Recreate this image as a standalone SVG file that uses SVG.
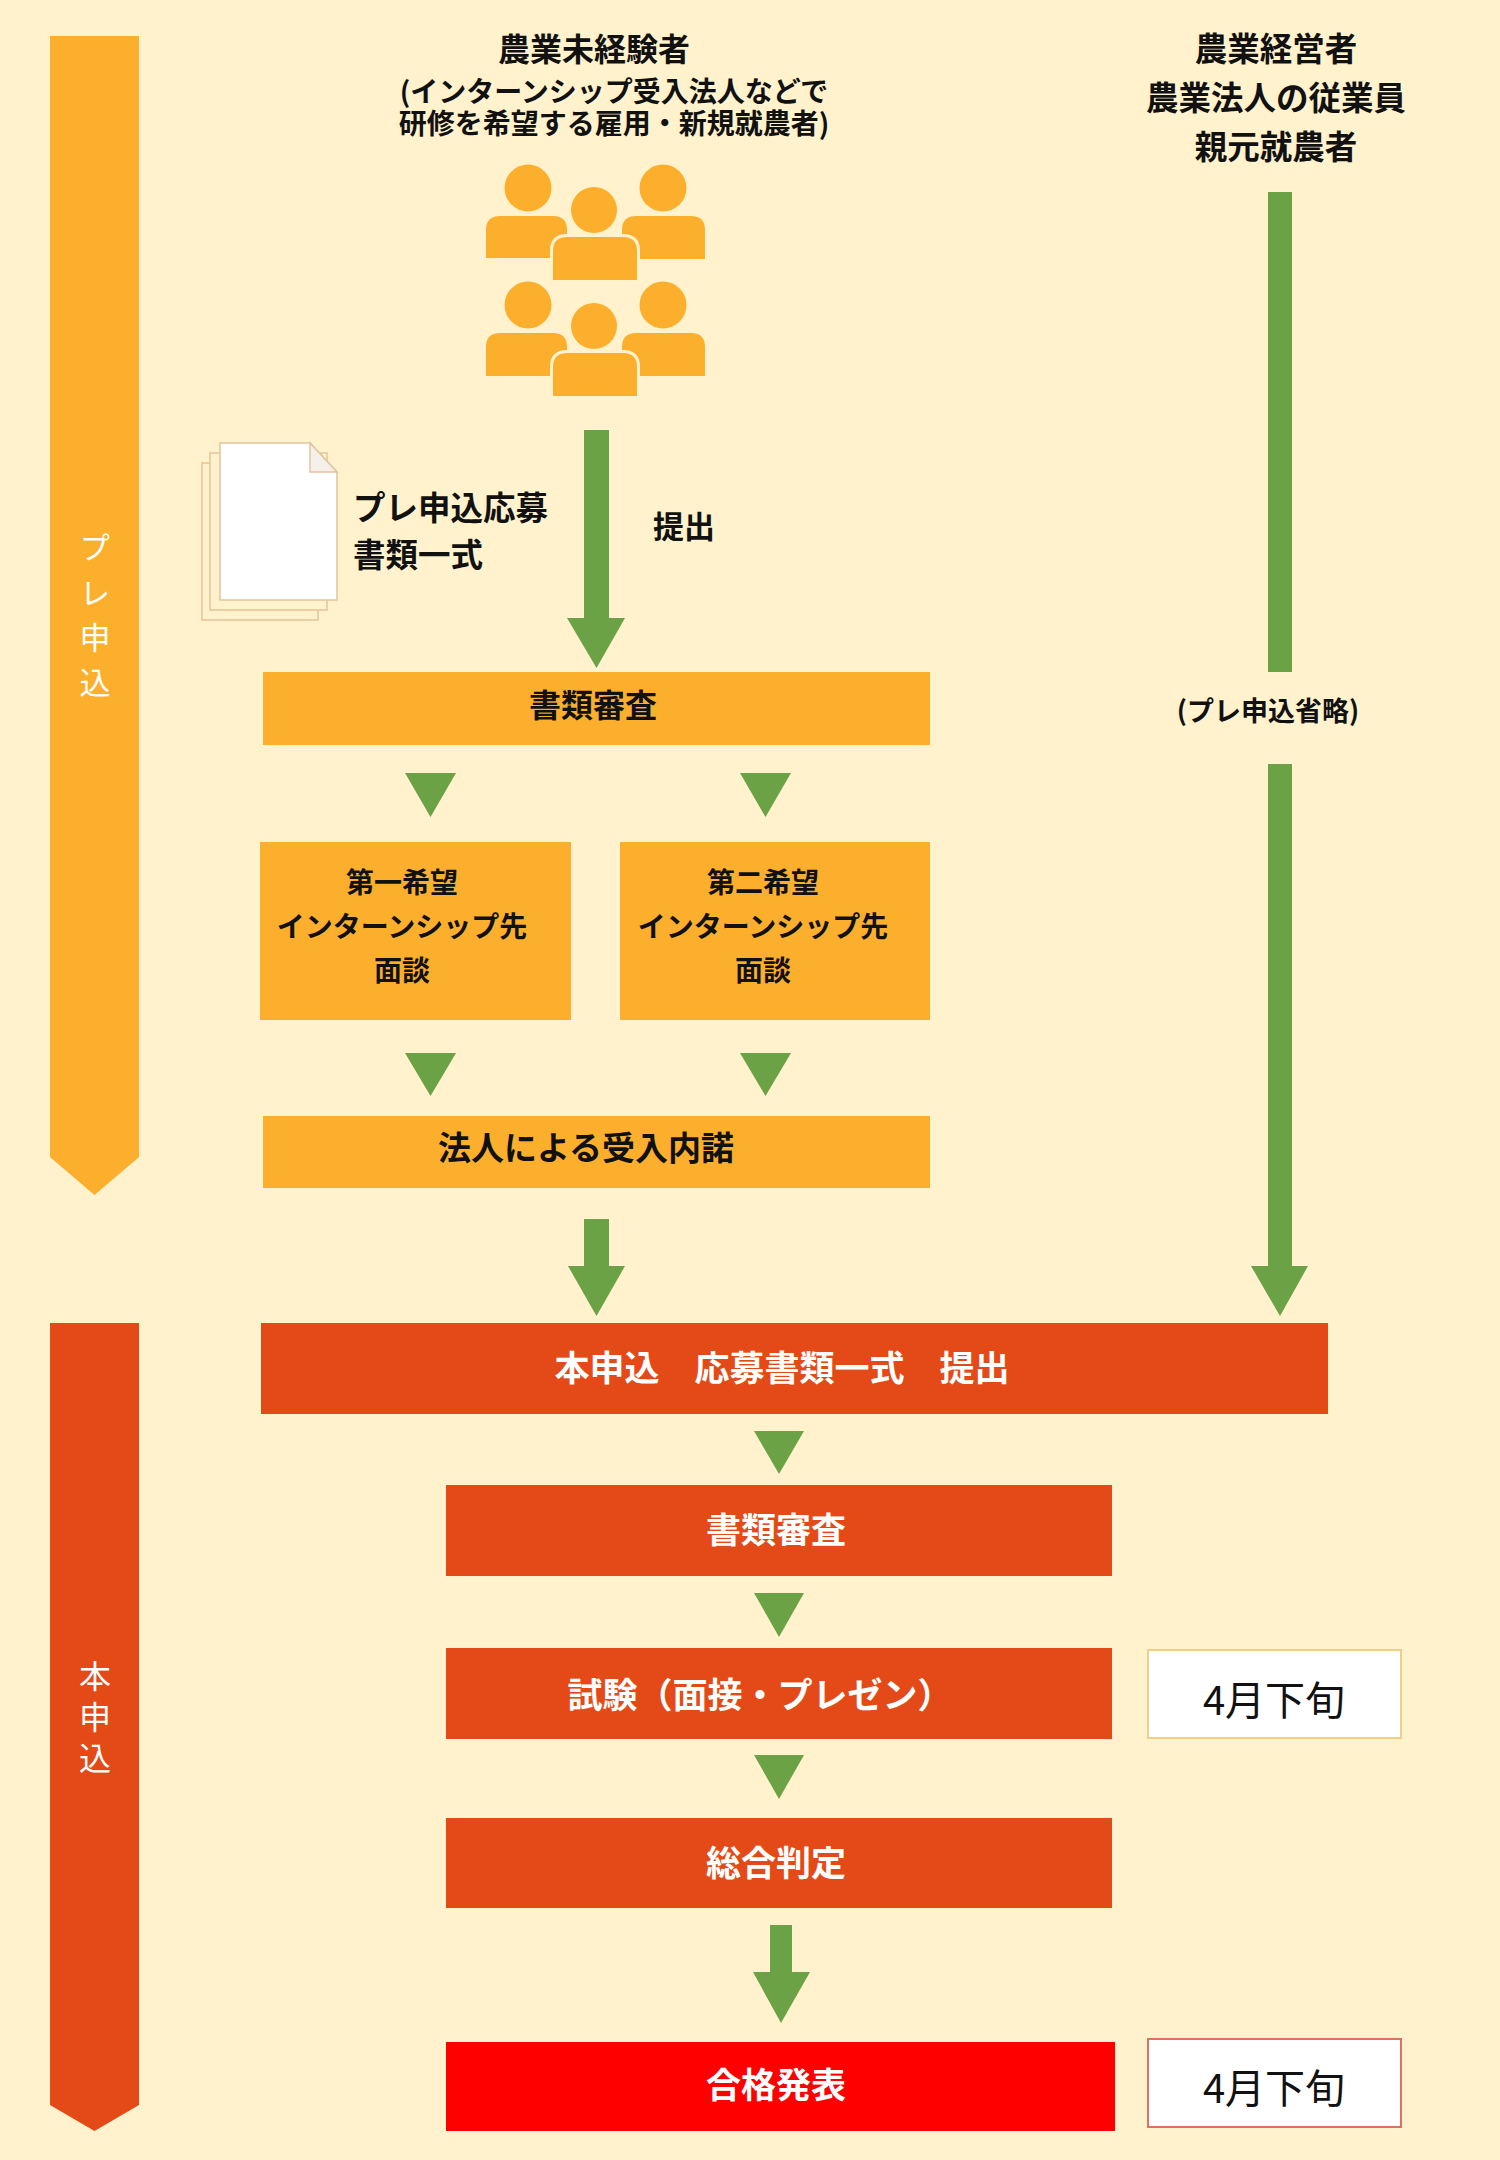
<svg xmlns="http://www.w3.org/2000/svg" width="1500" height="2160" viewBox="0 0 1500 2160">
<style>
.t{font-family:"Noto Sans CJK JP","Noto Sans CJK SC",sans-serif;font-weight:700;fill:#111;}
.w{font-family:"Noto Sans CJK JP","Noto Sans CJK SC",sans-serif;font-weight:400;fill:#fff;writing-mode:vertical-rl;}
.wb{font-family:"Noto Sans CJK JP","Noto Sans CJK SC",sans-serif;font-weight:700;fill:#fff;}
.r{font-family:"Noto Sans CJK JP","Noto Sans CJK SC",sans-serif;font-weight:400;fill:#111;}
.or{fill:#FCAF2C;}
.rd{fill:#E44A17;}
.gr{fill:#6BA245;}
.pp{fill:#FCAF2C;}
.ppc{fill:#FCAF2C;stroke:#FFF2CC;stroke-width:6;paint-order:stroke;}
.pg{stroke:#E3C39B;stroke-width:1.5;}
</style>
<rect x="0" y="0" width="1500" height="2160" fill="#FFF2CC"/>

<g id="band-pre">
<polygon class="or" points="50,36 139,36 139,1157 94.5,1195 50,1157"/>
<text class="w" font-size="31" letter-spacing="14" x="95" y="532">プレ申込</text>
</g>
<g id="band-main">
<polygon class="rd" points="50,1323 139,1323 139,2105 94.5,2131 50,2105"/>
<text class="w" font-size="32" letter-spacing="9" x="95" y="1660">本申込</text>
</g>

<g id="header-newcomer">
<text class="t" font-size="32" text-anchor="middle" x="594" y="61">農業未経験者</text>
<text class="t" font-size="28" text-anchor="middle" x="614" y="102">(インターンシップ受入法人などで</text>
<text class="t" font-size="28" text-anchor="middle" x="614" y="134">研修を希望する雇用・新規就農者)</text>
</g>
<g id="header-farmer">
<text class="t" font-size="32.5" text-anchor="middle" x="1276" y="61">農業経営者</text>
<text class="t" font-size="32.5" text-anchor="middle" x="1276" y="110">農業法人の従業員</text>
<text class="t" font-size="32.5" text-anchor="middle" x="1276" y="159">親元就農者</text>
</g>

<g id="people-icon">
<path class="pp" d="M486,258 V230 Q486,216 500,216 H553 Q567,216 567,230 V258 Z"/>
<path class="pp" d="M622,259 V230 Q622,216 636,216 H691 Q705,216 705,230 V259 Z"/>
<circle class="pp" cx="528" cy="188" r="23.5"/>
<circle class="pp" cx="663" cy="188" r="23.5"/>
<path class="ppc" d="M553,280 V251 Q553,237 567,237 H623 Q637,237 637,251 V280 Z"/>
<circle class="ppc" cx="594" cy="210" r="23"/>
<path class="pp" d="M486,376 V347 Q486,333 500,333 H553 Q567,333 567,347 V376 Z"/>
<path class="pp" d="M622,376 V347 Q622,333 636,333 H691 Q705,333 705,347 V376 Z"/>
<circle class="pp" cx="528" cy="305" r="23.5"/>
<circle class="pp" cx="663" cy="305" r="23.5"/>
<path class="ppc" d="M553,396 V367 Q553,353 567,353 H623 Q637,353 637,367 V396 Z"/>
<circle class="ppc" cx="594" cy="326" r="23"/>
</g>

<g id="documents">
<rect class="pg" x="202" y="463" width="116" height="157" fill="#FFF2CC"/>
<rect class="pg" x="210" y="453" width="117" height="157" fill="#FFF2CC"/>
<path class="pg" d="M220,443 H310 L337,472 V600 H220 Z" fill="#fff"/>
<path class="pg" d="M310,443 V472 H337 Z" fill="#F4F0EA"/>
<text class="t" font-size="32.5" x="353" y="520">プレ申込応募</text>
<text class="t" font-size="32.5" x="353" y="567">書類一式</text>
</g>
<g id="label-submit">
<text class="t" font-size="31" x="653" y="538">提出</text>
</g>

<g id="connectors">
<rect class="gr" x="584" y="430" width="25" height="190"/>
<polygon class="gr" points="567,618 625,618 596.5,668"/>
<rect class="gr" x="1268" y="192" width="24" height="480"/>
<rect class="gr" x="1268" y="764" width="24" height="504"/>
<polygon class="gr" points="1251,1266 1308,1266 1280,1316"/>
<polygon class="gr" points="405,773 456,773 430.5,817"/>
<polygon class="gr" points="740,773 791,773 765.5,817"/>
<polygon class="gr" points="405,1053 456,1053 430.5,1096"/>
<polygon class="gr" points="740,1053 791,1053 765.5,1096"/>
<rect class="gr" x="584" y="1219" width="25" height="50"/>
<polygon class="gr" points="568,1266 625,1266 596.5,1316"/>
<polygon class="gr" points="754,1431 804,1431 779,1474"/>
<polygon class="gr" points="754,1593 804,1593 779,1637"/>
<polygon class="gr" points="754,1755 804,1755 779,1799"/>
<rect class="gr" x="770" y="1925" width="22" height="50"/>
<polygon class="gr" points="753,1972 810,1972 781,2023"/>
</g>

<g id="label-skip">
<text class="t" font-size="27" text-anchor="middle" x="1268" y="721">(プレ申込省略)</text>
</g>

<g id="node-review1">
<rect class="or" x="263" y="672" width="667" height="73"/>
<text class="t" font-size="32" text-anchor="middle" x="593" y="717">書類審査</text>
</g>
<g id="node-first">
<rect class="or" x="260" y="842" width="311" height="178"/>
<text class="t" font-size="28" text-anchor="middle"><tspan x="402" y="893">第一希望</tspan><tspan x="402" y="937">インターンシップ先</tspan><tspan x="402" y="981">面談</tspan></text>
</g>
<g id="node-second">
<rect class="or" x="620" y="842" width="310" height="178"/>
<text class="t" font-size="28" text-anchor="middle"><tspan x="763" y="893">第二希望</tspan><tspan x="763" y="937">インターンシップ先</tspan><tspan x="763" y="981">面談</tspan></text>
</g>
<g id="node-consent">
<rect class="or" x="263" y="1116" width="667" height="72"/>
<text class="t" font-size="33" text-anchor="middle" x="586" y="1160">法人による受入内諾</text>
</g>

<g id="node-apply">
<rect class="rd" x="261" y="1323" width="1067" height="91"/>
<text class="wb" font-size="35" text-anchor="middle" x="782" y="1381">本申込　応募書類一式　提出</text>
</g>
<g id="node-review2">
<rect class="rd" x="446" y="1485" width="666" height="91"/>
<text class="wb" font-size="35" text-anchor="middle" x="776" y="1543">書類審査</text>
</g>
<g id="node-exam">
<rect class="rd" x="446" y="1648" width="666" height="91"/>
<text class="wb" font-size="35" text-anchor="middle" x="760" y="1708">試験（面接・プレゼン）</text>
</g>
<g id="node-judge">
<rect class="rd" x="446" y="1818" width="666" height="90"/>
<text class="wb" font-size="35" text-anchor="middle" x="776" y="1876">総合判定</text>
</g>
<g id="node-result">
<rect x="446" y="2042" width="669" height="89" fill="#FF0000"/>
<text class="wb" font-size="35" text-anchor="middle" x="776" y="2098">合格発表</text>
</g>
<g id="date-exam">
<rect x="1148" y="1650" width="253" height="88" fill="#fff" stroke="#EFCF85" stroke-width="2"/>
<text class="r" font-size="40" text-anchor="middle" x="1274" y="1715">4月下旬</text>
</g>
<g id="date-result">
<rect x="1148" y="2039" width="253" height="88" fill="#fff" stroke="#E0705F" stroke-width="2"/>
<text class="r" font-size="40" text-anchor="middle" x="1274" y="2103">4月下旬</text>
</g>
</svg>
